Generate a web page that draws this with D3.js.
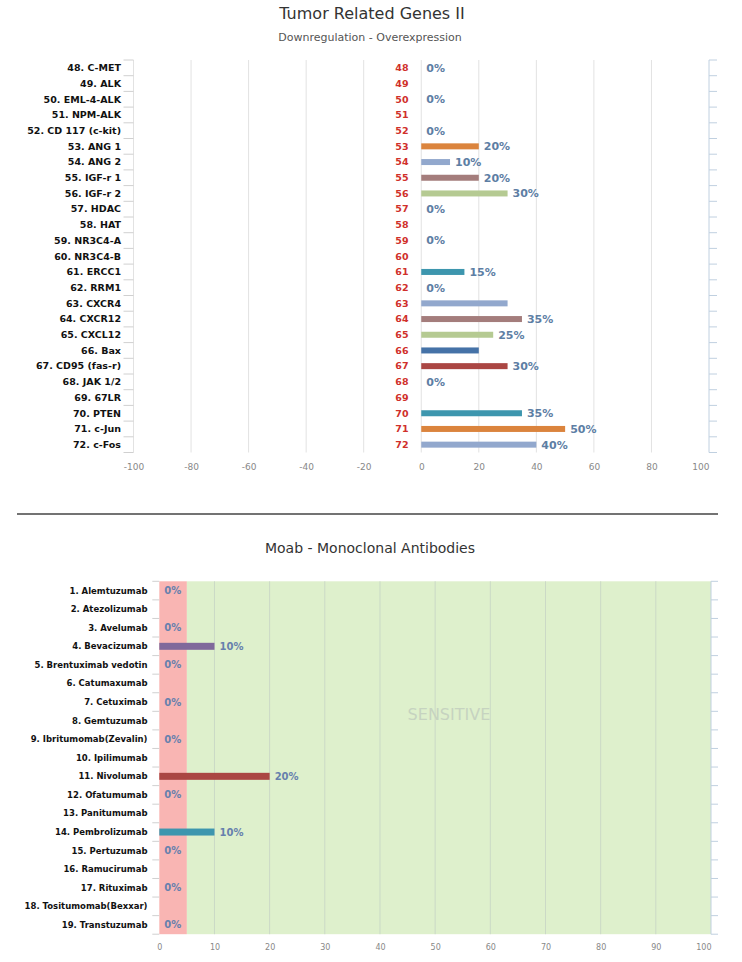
<!DOCTYPE html>
<html>
<head>
<meta charset="utf-8">
<script src="https://cdn.jsdelivr.net/npm/d3@7"></script>
<style>
body { margin: 0; background: #fff; }
svg text { font-family: 'DejaVu Sans', sans-serif; }
</style>
</head>
<body>
<svg class="chart"></svg>
<script>
//DATA
const genes = ['48. C-MET', '49. ALK', '50. EML-4-ALK', '51. NPM-ALK', '52. CD 117 (c-kit)',
    '53. ANG 1', '54. ANG 2', '55. IGF-r 1', '56. IGF-r 2', '57. HDAC', '58. HAT',
    '59. NR3C4-A', '60. NR3C4-B', '61. ERCC1', '62. RRM1', '63. CXCR4', '64. CXCR12',
    '65. CXCL12', '66. Bax', '67. CD95 (fas-r)', '68. JAK 1/2', '69. 67LR', '70. PTEN',
    '71. c-Jun', '72. c-Fos'];
const geneValues = [0, null, 0, null, 0, 20, 10, 20, 30, 0, null, 0, null, 15, 0, 30, 35, 25, 20, 30, 0, null, 35, 50, 40];
const geneLabels = ['0%', '', '0%', '', '0%', '20%', '10%', '20%', '30%', '0%', '', '0%', '', '15%', '0%', '', '35%', '25%', '', '30%', '0%', '', '35%', '50%', '40%'];
const geneTicks = [-100, -80, -60, -40, -20, 0, 20, 40, 60, 80, 100];

const moabs = ['1. Alemtuzumab', '2. Atezolizumab', '3. Avelumab', '4. Bevacizumab',
    '5. Brentuximab vedotin', '6. Catumaxumab', '7. Cetuximab', '8. Gemtuzumab',
    '9. Ibritumomab(Zevalin)', '10. Ipilimumab', '11. Nivolumab', '12. Ofatumumab',
    '13. Panitumumab', '14. Pembrolizumab', '15. Pertuzumab', '16. Ramucirumab',
    '17. Rituximab', '18. Tositumomab(Bexxar)', '19. Transtuzumab'];
const moabValues = [0, null, 0, 10, 0, null, 0, null, 0, null, 20, 0, null, 10, 0, null, 0, null, 0];
const moabLabels = ['0%', '', '0%', '10%', '0%', '', '0%', '', '0%', '', '20%', '0%', '', '10%', '0%', '', '0%', '', '0%'];
const moabTicks = [0, 10, 20, 30, 40, 50, 60, 70, 80, 90, 100];
const moabBands = [[0, 5], [5, 100]];
const moabBandText = 'SENSITIVE';

const palette = ['#4572A7', '#AA4643', '#89A54E', '#80699B', '#3D96AE', '#DB843D', '#92A8CD', '#A47D7C', '#B5CA92'];

//INITIALIZING CANVAS
const size = {w: 742, h: 962};
const svg = d3.select('svg.chart')
    .attr('width', size.w)
    .attr('height', size.h);

//TITLES
svg.append('text')
    .attr('x', 372).attr('y', 19)
    .attr('text-anchor', 'middle')
    .style('font-size', '16px').style('fill', '#333')
    .text('Tumor Related Genes II');
svg.append('text')
    .attr('x', 370).attr('y', 41)
    .attr('text-anchor', 'middle')
    .style('font-size', '11px').style('fill', '#555')
    .text('Downregulation - Overexpression');

svg.append('line')
    .attr('x1', 17).attr('x2', 718)
    .attr('y1', 514).attr('y2', 514)
    .style('stroke', '#444').style('stroke-width', 1.5);

svg.append('text')
    .attr('x', 370).attr('y', 553)
    .attr('text-anchor', 'middle')
    .style('font-size', '14px').style('fill', '#333')
    .text('Moab - Monoclonal Antibodies');

//TOP CHART
const geneChart = svg.append('g').classed('genes', true);
const gx = d3.scaleLinear().domain([-100, 100]).range([133.5, 709]);
const gy = d3.scaleBand().domain(genes).range([60, 452.5]);
const gBottom = gy.range()[1];

geneChart.selectAll('line.grid')
    .data(geneTicks)
    .enter().append('line')
    .attr('class', 'grid')
    .attr('x1', d => gx(d)).attr('x2', d => gx(d))
    .attr('y1', gy.range()[0]).attr('y2', gBottom)
    .style('stroke', (d, i) => i === geneTicks.length - 1 ? '#c0d0e0' : '#e2e2e2')
    .style('stroke-width', 1);

let gBounds = genes.map(d => gy(d)).concat([gBottom]);
geneChart.selectAll('line.ltick')
    .data(gBounds)
    .enter().append('line')
    .attr('class', 'ltick')
    .attr('x1', gx(-100) - 10).attr('x2', gx(-100))
    .attr('y1', d => d).attr('y2', d => d)
    .style('stroke', '#d0d0d0');
geneChart.selectAll('line.rtick')
    .data(gBounds)
    .enter().append('line')
    .attr('class', 'rtick')
    .attr('x1', gx(100)).attr('x2', gx(100) + 8)
    .attr('y1', d => d).attr('y2', d => d)
    .style('stroke', '#c0d0e0');

geneChart.selectAll('text.cat')
    .data(genes)
    .enter().append('text')
    .attr('class', 'cat')
    .attr('x', 121)
    .attr('y', d => gy(d) + gy.bandwidth() / 2)
    .attr('dy', '0.35em')
    .attr('text-anchor', 'end')
    .style('font-size', '9.5px').style('font-weight', 'bold').style('fill', '#111')
    .text(d => d);

geneChart.selectAll('text.num')
    .data(genes)
    .enter().append('text')
    .attr('class', 'num')
    .attr('x', 408.5)
    .attr('y', d => gy(d) + gy.bandwidth() / 2)
    .attr('dy', '0.35em')
    .attr('text-anchor', 'end')
    .style('font-size', '9.5px').style('font-weight', 'bold').style('fill', '#d0302b')
    .text(d => d.split('.')[0]);

genes.forEach((g, i) => {
    let v = geneValues[i];
    let cy = gy(g) + gy.bandwidth() / 2;
    if (v) {
        geneChart.append('rect')
            .attr('class', 'bars')
            .attr('x', gx(0))
            .attr('y', cy - 3)
            .attr('width', gx(v) - gx(0))
            .attr('height', 6)
            .style('fill', palette[i % palette.length]);
    }
    if (geneLabels[i]) {
        geneChart.append('text')
            .attr('x', gx(v || 0) + 5)
            .attr('y', cy)
            .attr('dy', '0.35em')
            .style('font-size', '11px').style('font-weight', 'bold').style('fill', '#5d7ea4')
            .text(geneLabels[i]);
    }
});

let gAxis = geneChart.append('g')
    .attr('transform', `translate(0,${gBottom})`)
    .call(d3.axisBottom(gx).tickValues(geneTicks).tickFormat(d => String(d)).tickSize(0).tickPadding(11));
gAxis.select('.domain').remove();
gAxis.selectAll('text')
    .style('font-size', '9px').style('fill', '#888')
    .attr('text-anchor', (d, i) => i === geneTicks.length - 1 ? 'end' : 'middle');

//BOTTOM CHART
const moabChart = svg.append('g').classed('moab', true);
const mx = d3.scaleLinear().domain([0, 100]).range([159.3, 711]);
const my = d3.scaleBand().domain(moabs).range([581.3, 934.2]);
const mTop = my.range()[0], mBottom = my.range()[1];

moabChart.selectAll('rect.band')
    .data(moabBands)
    .enter().append('rect')
    .attr('class', 'band')
    .attr('x', d => mx(d[0]))
    .attr('y', mTop)
    .attr('width', d => mx(d[1]) - mx(d[0]))
    .attr('height', mBottom - mTop)
    .style('fill', (d, i) => i === 0 ? '#f9b5b3' : '#def0cc');

moabChart.selectAll('line.grid')
    .data(moabTicks.slice(1))
    .enter().append('line')
    .attr('class', 'grid')
    .attr('x1', d => mx(d)).attr('x2', d => mx(d))
    .attr('y1', mTop).attr('y2', mBottom)
    .style('stroke', (d, i, n) => i === n.length - 1 ? '#c0d0e0' : '#cbd9c6')
    .style('stroke-width', 1);

moabChart.append('text')
    .attr('x', (mx(moabBands[1][0]) + mx(moabBands[1][1])) / 2)
    .attr('y', my(moabs[7]) + 3)
    .attr('dy', '0.35em')
    .attr('text-anchor', 'middle')
    .style('font-size', '16px').style('fill', '#c6d3c0')
    .text(moabBandText);

let mBounds = moabs.map(d => my(d)).concat([mBottom]);
moabChart.selectAll('line.ltick')
    .data(mBounds)
    .enter().append('line')
    .attr('class', 'ltick')
    .attr('x1', mx(0) - 7).attr('x2', mx(0))
    .attr('y1', d => d).attr('y2', d => d)
    .style('stroke', '#d0d0d0');
moabChart.selectAll('line.rtick')
    .data(mBounds)
    .enter().append('line')
    .attr('class', 'rtick')
    .attr('x1', mx(100)).attr('x2', mx(100) + 7)
    .attr('y1', d => d).attr('y2', d => d)
    .style('stroke', '#c0d0e0');

moabChart.selectAll('text.cat')
    .data(moabs)
    .enter().append('text')
    .attr('class', 'cat')
    .attr('x', 147.5)
    .attr('y', d => my(d) + my.bandwidth() / 2)
    .attr('dy', '0.35em')
    .attr('text-anchor', 'end')
    .style('font-size', '8.5px').style('font-weight', 'bold').style('fill', '#111')
    .text(d => d);

moabs.forEach((m, i) => {
    let v = moabValues[i];
    let cy = my(m) + my.bandwidth() / 2;
    if (v) {
        moabChart.append('rect')
            .attr('class', 'bars')
            .attr('x', mx(0))
            .attr('y', cy - 3.5)
            .attr('width', mx(v) - mx(0))
            .attr('height', 7)
            .style('fill', palette[i % palette.length]);
    }
    if (moabLabels[i]) {
        moabChart.append('text')
            .attr('x', mx(v || 0) + 5)
            .attr('y', cy)
            .attr('dy', '0.35em')
            .style('font-size', '10px').style('font-weight', 'bold').style('fill', '#6680ad')
            .text(moabLabels[i]);
    }
});

let mAxis = moabChart.append('g')
    .attr('transform', `translate(0,${mBottom})`)
    .call(d3.axisBottom(mx).tickValues(moabTicks).tickSize(0).tickPadding(10));
mAxis.select('.domain').remove();
mAxis.selectAll('text')
    .style('font-size', '8px').style('fill', '#888')
    .attr('text-anchor', (d, i) => i === moabTicks.length - 1 ? 'end' : 'middle');
</script>
</body>
</html>
